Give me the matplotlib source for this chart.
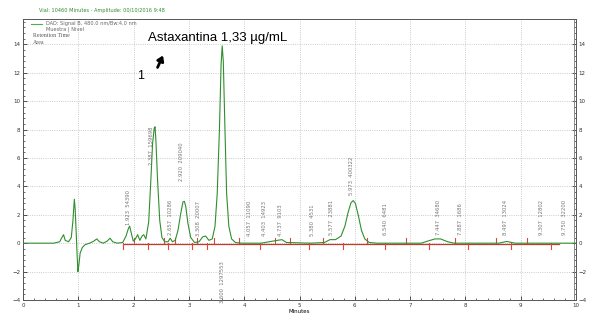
import matplotlib
matplotlib.use('Agg')
import matplotlib.pyplot as plt
from matplotlib.ticker import MultipleLocator

# chromatogram trace (minutes, mAU)
time = [0.0, 0.30, 0.55, 0.66, 0.70, 0.73, 0.76, 0.82, 0.87, 0.90, 0.925, 0.94, 0.96, 0.975,
        0.99, 1.005, 1.03, 1.07, 1.12, 1.20, 1.28, 1.33, 1.38, 1.45, 1.52, 1.57, 1.62, 1.70,
        1.80, 1.86, 1.90, 1.925, 1.95, 1.99, 2.03, 2.07, 2.11, 2.15, 2.18, 2.22, 2.27, 2.31,
        2.34, 2.37, 2.385, 2.40, 2.43, 2.47, 2.51, 2.56, 2.62, 2.66, 2.70, 2.75, 2.80, 2.85,
        2.89, 2.915, 2.94, 2.98, 3.03, 3.10, 3.18, 3.25, 3.30, 3.36, 3.42, 3.47, 3.51, 3.55,
        3.58, 3.60, 3.62, 3.65, 3.68, 3.72, 3.77, 3.84, 3.95, 4.30, 4.60, 4.68, 4.76, 5.20,
        5.45, 5.55, 5.65, 5.75, 5.82, 5.88, 5.93, 5.97, 6.01, 6.06, 6.12, 6.18, 6.26, 6.40,
        7.20, 7.32, 7.45, 7.55, 7.68, 7.80, 8.60, 8.75, 8.90, 10.0]
signal = [0.0, 0.0, 0.0, 0.1, 0.4, 0.6, 0.2, 0.1, 0.4, 1.6, 3.1, 2.4, 0.6, -0.8,
          -2.0, -1.6, -0.7, -0.3, -0.1, 0.0, 0.15, 0.3, 0.1, 0.0, 0.15, 0.35, 0.1, 0.0,
          0.05, 0.5, 1.0, 1.2, 0.8, 0.15, 0.3, 0.6, 0.2, 0.5, 0.6, 0.3, 1.5, 4.5,
          7.0, 8.1, 8.2, 7.3, 4.5, 1.6, 0.4, 0.1, 0.1, 0.35, 0.1, 0.2, 0.9, 2.1,
          2.9, 2.95, 2.6, 1.4, 0.4, 0.05, 0.1, 0.45, 0.5, 0.2, 0.3, 1.2, 3.5, 8.0,
          12.6, 13.9, 12.8, 8.0, 3.5, 1.2, 0.3, 0.05, 0.0, 0.0, 0.2, 0.25, 0.05, 0.0,
          0.05, 0.25, 0.25, 0.5, 1.2, 2.2, 2.85, 3.0, 2.8, 2.0, 0.9, 0.3, 0.05, 0.0,
          0.0, 0.15, 0.3, 0.3, 0.1, 0.0, 0.0, 0.12, 0.0, 0.0]

# integrated peaks: retention time, area, where the label sits
peak_times = [1.90, 2.33, 2.66, 2.86, 3.17, 3.60, 4.09, 4.36, 4.65, 5.24, 5.57, 5.94,
              6.55, 7.52, 7.92, 8.73, 9.37, 9.80]
peak_labels = ["1.923  54390", "2.387  159698", "2.657  10286", "2.920  209040",
               "3.308  20007", "3.600  1297553", "4.057  11090", "4.403  14923",
               "4.737  9103", "5.380  4531", "5.577  23881", "5.973  400322",
               "6.540  6481", "7.447  34680", "7.887  1686", "8.497  13024",
               "9.307  12802", "9.750  32200"]
label_y = [1.3, 5.5, 0.6, 4.4, 0.5, -1.3, 0.5, 0.5, 0.5, 0.5, 0.6, 3.4,
           0.6, 0.6, 0.6, 0.6, 0.6, 0.6]

# baseline segments and integration marks
base_start, base_end = 1.80, 9.70
mark_times = [1.80, 2.00, 2.25, 2.55, 2.62, 2.75, 3.05, 3.15, 3.32, 3.45, 3.90, 4.28,
              4.55, 4.82, 5.17, 5.42, 5.78, 6.22, 6.55, 6.92, 7.35, 7.82, 8.05, 8.55,
              8.82, 9.12, 9.55]
mark_dir = [-1, 1, -1, 1, -1, 1, -1, 1, -1, 1, 1, -1, 1, 1, -1, 1, -1, 1, -1, 1, -1, 1,
            -1, 1, -1, 1, -1]

fig = plt.figure(figsize=(5.95, 3.25), dpi=100)
ax = fig.add_axes([0.039, 0.077, 0.929, 0.865])

ax.plot(time, signal, color='#2f8f2f', lw=0.8, zorder=3)
ax.plot([base_start, base_end], [-0.05, -0.05], color='#c0392b', lw=0.9, zorder=2)
for t, d in zip(mark_times, mark_dir):
    ax.plot([t, t], [0, 0.4 * d], color='#e0443a', lw=0.8, zorder=2)

for t, lab, y in zip(peak_times, peak_labels, label_y):
    va = 'bottom' if y > 0 else 'top'
    ax.text(t, y, lab, rotation=90, fontsize=3.8, color='#777777', ha='center', va=va)

ax.set_xlim(0, 10)
ax.set_ylim(-4, 15.8)
ax.xaxis.set_major_locator(MultipleLocator(1))
ax.xaxis.set_minor_locator(MultipleLocator(0.2))
ax.yaxis.set_major_locator(MultipleLocator(2))
ax.yaxis.set_minor_locator(MultipleLocator(0.4))
ax.tick_params(which='both', direction='in', labelsize=4, pad=2, colors='#333333',
               right=True, labelright=True)
ax.tick_params(which='major', length=3, width=0.6)
ax.tick_params(which='minor', length=1.5, width=0.5)
ax.grid(True, which='major', ls=':', color='#bbbbbb', lw=0.6)
for s in ax.spines.values():
    s.set_color('#555555')
    s.set_linewidth(0.7)
ax.axvline(9.96, color='#888888', lw=0.7)
ax.set_xlabel("Minutes", fontsize=4, labelpad=1)

# header and legend block
fig.text(0.065, 0.962, "Vial: 10460 Minutes - Amplitude: 00/10/2016 9:48", fontsize=3.6,
         color='#2e8b2e')
ax.plot([0.15, 0.34], [15.45, 15.45], color='#4caf50', lw=0.8)
ax.text(0.42, 15.45, "DAD: Signal B, 480.0 nm/Bw:4.0 nm", fontsize=3.6, color='#666666',
        va='center')
ax.text(0.42, 15.05, "Muestra | Nivel", fontsize=3.6, color='#666666', va='center')
ax.text(0.18, 14.6, "Retention Time", fontsize=4.2, color='#555555', va='center',
        family='Liberation Serif')
ax.text(0.18, 14.15, "Area", fontsize=4.2, color='#555555', va='center',
        family='Liberation Serif')

ax.text(2.26, 14.45, "Astaxantina 1,33 µg/mL", fontsize=9.5, color='black',
        family='Liberation Sans', va='center')
ax.annotate("", xy=(2.55, 13.4), xytext=(2.41, 12.2),
            arrowprops=dict(arrowstyle='-|>,head_width=0.2,head_length=0.3', color='black',
                            lw=2.0))
ax.text(2.12, 11.8, "1", fontsize=9, color='black', family='Liberation Sans', va='center',
        ha='center')

fig.savefig("out.png", dpi=100)
